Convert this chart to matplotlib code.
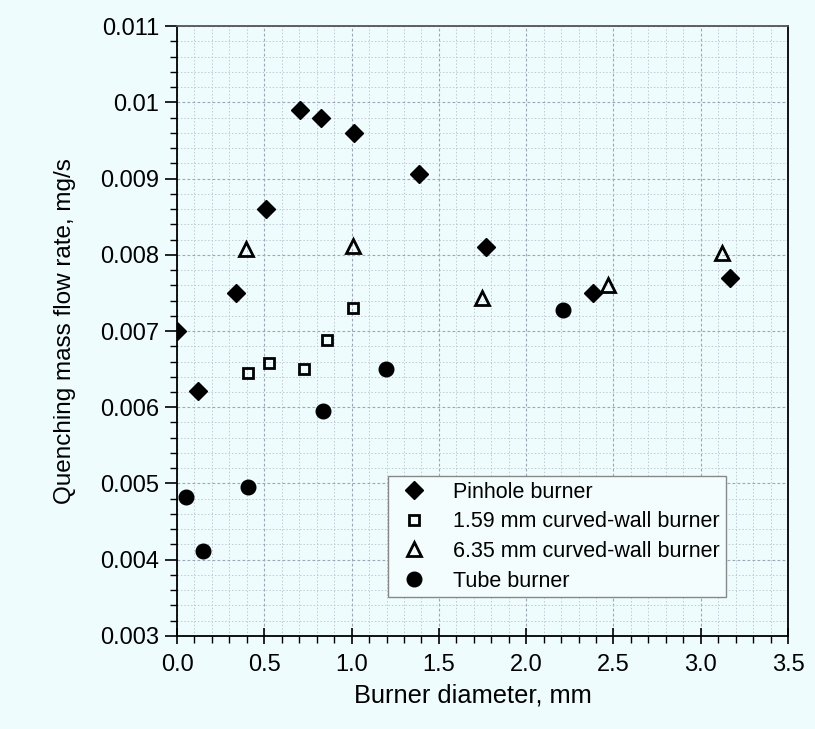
import matplotlib.pyplot as plt
from matplotlib.ticker import MultipleLocator, FormatStrFormatter

plt.rcParams['font.family'] = ['Liberation Sans', 'DejaVu Sans']

# 데이터
pinhole_x = [0.0, 0.12, 0.34, 0.51, 0.705, 0.823, 1.014, 1.386, 1.77, 2.385, 3.167]
pinhole_y = [0.0070, 0.00621, 0.0075, 0.0086, 0.0099, 0.0098, 0.0096, 0.00906, 0.0081, 0.0075, 0.0077]

curved159_x = [0.408, 0.529, 0.727, 0.857, 1.01]
curved159_y = [0.00645, 0.00658, 0.0065, 0.00688, 0.0073]

curved635_x = [0.395, 1.006, 1.745, 2.467, 3.12]
curved635_y = [0.00807, 0.00812, 0.00743, 0.0076, 0.00802]

tube_x = [0.052, 0.151, 0.408, 0.838, 1.197, 2.213]
tube_y = [0.00482, 0.00411, 0.00495, 0.00595, 0.0065, 0.00728]

bg = '#effcfd'

fig = plt.figure(figsize=(8.15, 7.29), dpi=100, facecolor=bg)
ax = fig.add_axes([0.2172, 0.1276, 0.7497, 0.8367], facecolor=bg)

ax.plot(pinhole_x, pinhole_y, 'D', color='black', ms=9, ls='none',
        label='Pinhole burner', zorder=3)
ax.plot(curved159_x, curved159_y, 's', mfc='none', mec='black', ms=7.4, mew=2.0,
        ls='none', label='1.59 mm curved-wall burner', zorder=3)
ax.plot(curved635_x, curved635_y, '^', mfc='none', mec='black', ms=9.5, mew=2.0,
        ls='none', label='6.35 mm curved-wall burner', zorder=3)
ax.plot(tube_x, tube_y, 'o', color='black', ms=10.5, ls='none',
        label='Tube burner', zorder=3)

ax.set_xlim(0, 3.5)
ax.set_ylim(0.003, 0.011)
ax.xaxis.set_major_locator(MultipleLocator(0.5))
ax.xaxis.set_minor_locator(MultipleLocator(0.1))
ax.yaxis.set_major_locator(MultipleLocator(0.001))
ax.yaxis.set_minor_locator(MultipleLocator(0.0002))
ax.xaxis.set_major_formatter(FormatStrFormatter('%.1f'))
ax.yaxis.set_major_formatter(plt.FuncFormatter(lambda v, p: f'{v:.3f}'.rstrip('0')))

ax.grid(True, which='major', color='#9ea6b6', ls=(0, (2.5, 2)), lw=0.8)
ax.grid(True, which='minor', color='#c2c9d5', ls=(0, (1.5, 2)), lw=0.7)
ax.set_axisbelow(True)

ax.tick_params(axis='y', which='major', direction='out', length=9, width=1.2, labelsize=17, pad=4)
ax.tick_params(axis='x', which='major', direction='inout', length=12, width=1.2, labelsize=17, pad=7)
ax.tick_params(which='minor', direction='out', length=5, width=1.0)

for s in ax.spines.values():
    s.set_linewidth(1.3)
    s.set_color('black')
ax.spines['top'].set_color('#555555')

ax.set_xlabel('Burner diameter, mm', fontsize=18.3)
ax.xaxis.set_label_coords(0.485, -0.078)
ax.set_ylabel('Quenching mass flow rate, mg/s', fontsize=17.5, labelpad=17)

leg = ax.legend(loc='lower left', bbox_to_anchor=(0.345, 0.064), borderaxespad=0,
                fontsize=15.5, frameon=True, fancybox=False, framealpha=1,
                facecolor='#f4fdfd', edgecolor='#888888', handlelength=1.9,
                handletextpad=0.9, labelspacing=0.4, borderpad=0.25)
leg.get_frame().set_linewidth(1.0)

fig.savefig('out.png', dpi=100, facecolor=bg)
